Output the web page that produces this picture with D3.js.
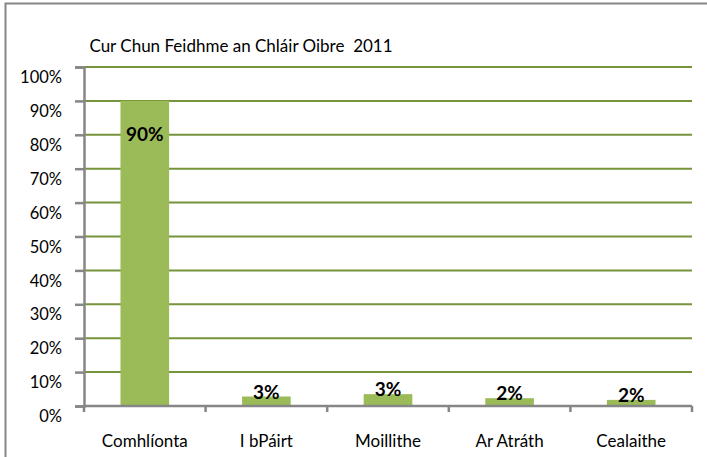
<!DOCTYPE html>
<html>
<head>
<meta charset="utf-8">
<script src="https://cdnjs.cloudflare.com/ajax/libs/d3/7.8.5/d3.min.js"></script>
<style>
body { margin: 0; background: #fff; }
text { font-family: Lato, "Open Sans", sans-serif; fill: #000; }
</style>
</head>
<body>
<script>
var categories = ['Comhlíonta', 'I bPáirt', 'Moillithe', 'Ar Atráth', 'Cealaithe'];
var values = [0.90, 0.028, 0.035, 0.023, 0.018];
var barLabels = ['90%', '3%', '3%', '2%', '2%'];
var yTicks = [0, 0.1, 0.2, 0.3, 0.4, 0.5, 0.6, 0.7, 0.8, 0.9, 1.0];
var title = 'Cur Chun Feidhme an Chláir Oibre  2011';

var width = 707;
var height = 457;
var svg = d3.select('body').append('svg').attr('width', width).attr('height', height);

// chart border
svg.append('rect')
    .attr('x', 5.5).attr('y', 3.5)
    .attr('width', 710).attr('height', 470)
    .attr('fill', 'none')
    .attr('stroke', '#868686')
    .attr('stroke-width', 2);

var plot = { left: 84, right: 692, top: 67, bottom: 406 };

var x = d3.scaleBand()
    .domain(categories)
    .range([plot.left, plot.right])
    .paddingInner(0.6)
    .paddingOuter(0.3);

var y = d3.scaleLinear()
    .domain([0, 1])
    .range([plot.bottom, plot.top]);

// gridlines
svg.append('g')
    .selectAll('line')
    .data(yTicks.slice(1))
    .enter()
    .append('line')
    .attr('x1', plot.left)
    .attr('x2', plot.right)
    .attr('y1', function (d) { return y(d); })
    .attr('y2', function (d) { return y(d); })
    .attr('stroke', '#77933C')
    .attr('stroke-width', 2);

// bars
svg.append('g')
    .selectAll('rect')
    .data(values)
    .enter()
    .append('rect')
    .attr('x', function (d, i) { return x(categories[i]); })
    .attr('y', function (d) { return y(d); })
    .attr('width', x.bandwidth())
    .attr('height', function (d) { return plot.bottom - y(d); })
    .attr('fill', '#9BBB59');

// y axis
var yAxis = d3.axisLeft(y)
    .tickValues(yTicks)
    .tickSize(9)
    .tickFormat(d3.format('.0%'));
var gy = svg.append('g')
    .attr('transform', 'translate(' + plot.left + ',0)')
    .call(yAxis);
gy.select('.domain').attr('stroke', '#868686').attr('stroke-width', 2.5);
gy.selectAll('.tick line').attr('stroke', '#868686').attr('stroke-width', 2.5);
gy.selectAll('.tick text')
    .attr('x', -22)
    .attr('dy', '0.95em')
    .style('font-size', '16.5px')
    .style('font-family', 'Lato, sans-serif');

// x axis
var gx = svg.append('g')
    .attr('transform', 'translate(0,' + plot.bottom + ')');
gx.append('line')
    .attr('x1', plot.left).attr('x2', plot.right)
    .attr('stroke', '#868686').attr('stroke-width', 2.5);
var edges = categories.map(function (c) { return x(c) - x.step() * x.paddingInner() / 2; });
edges.push(plot.right);
gx.selectAll('.xt')
    .data(edges)
    .enter()
    .append('line')
    .attr('class', 'xt')
    .attr('x1', function (d) { return d; })
    .attr('x2', function (d) { return d; })
    .attr('y1', 0).attr('y2', 6)
    .attr('stroke', '#868686').attr('stroke-width', 2.5);
gx.selectAll('text')
    .data(categories)
    .enter()
    .append('text')
    .attr('x', function (d) { return x(d) + x.bandwidth() / 2; })
    .attr('y', 41)
    .attr('text-anchor', 'middle')
    .style('font-size', '17px')
    .text(function (d) { return d; });

// bar labels
svg.append('g')
    .selectAll('text')
    .data(values)
    .enter()
    .append('text')
    .attr('x', function (d, i) { return x(categories[i]) + x.bandwidth() / 2; })
    .attr('y', function (d, i) { return i === 0 ? y(d) + 40 : y(d) + 2; })
    .attr('text-anchor', 'middle')
    .style('font-size', '19px')
    .style('font-weight', 'bold')
    .text(function (d, i) { return barLabels[i]; });

// title
svg.append('text')
    .attr('x', 241)
    .attr('y', 52)
    .attr('text-anchor', 'middle')
    .style('font-size', '17px')
    .style('white-space', 'pre')
    .text(title);
</script>
</body>
</html>
